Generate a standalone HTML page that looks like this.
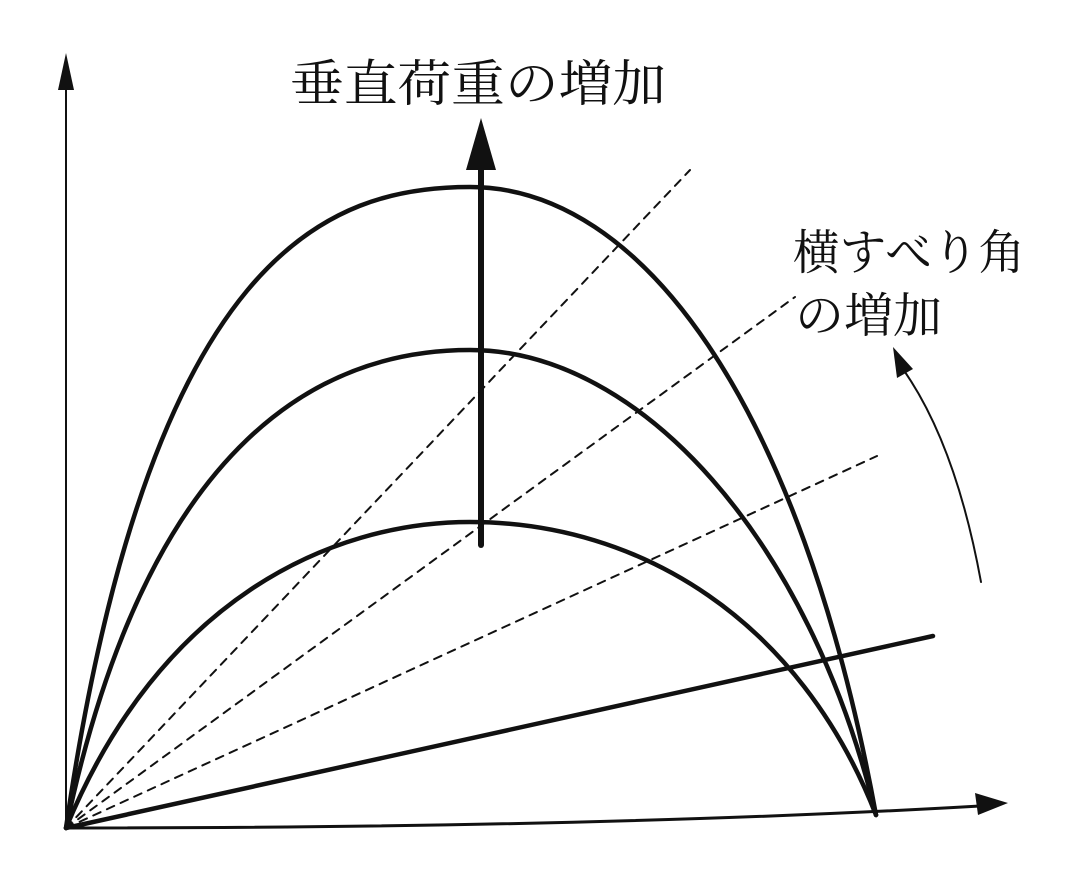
<!DOCTYPE html>
<html><head><meta charset="utf-8"><style>
html,body{margin:0;padding:0;background:#fff;}
svg{display:block}
text{font-family:"Liberation Serif","Noto Serif CJK SC","Noto Sans CJK JP",serif;fill:#111;}
</style></head><body>
<svg width="1080" height="893" viewBox="0 0 1080 893" xmlns="http://www.w3.org/2000/svg">
<rect width="1080" height="893" fill="#fff"/>
<g stroke="#111" fill="none" stroke-linecap="round">
<!-- axes -->
<line x1="66" y1="828" x2="66" y2="85" stroke-width="2"/>
<path d="M66 828 Q600 828 980 806" stroke-width="3"/>
<!-- dashed -->
<g stroke-width="2" stroke-dasharray="8,7">
<line x1="66" y1="828" x2="690" y2="170"/>
<line x1="66" y1="828" x2="795" y2="297"/>
<line x1="66" y1="828" x2="877" y2="456"/>
</g>
<!-- solid line -->
<line x1="66" y1="828" x2="933" y2="636" stroke-width="4.5"/>
<!-- parabolas -->
<g stroke-width="4.5">
<path d="M66 828 C150 250 330 187 470 187 C640 187 800 400 876 815"/>
<path d="M66 828 C150 430 330 350 470 350 C640 350 810 540 876 815"/>
<path d="M66 828 C160 600 330 522 470 522 C640 522 800 620 876 815"/>
</g>
<!-- vertical arrow -->
<line x1="481" y1="545" x2="481" y2="160" stroke-width="6"/>
<!-- curved arrow -->
<path d="M981 582 Q955 440 900 365" stroke-width="2"/>
</g>
<g fill="#111">
<polygon points="66,53 58,90 74,90"/>
<polygon points="1008,803 975,793 978,815"/>
<polygon points="481,118 466,170 496,170"/>
<polygon points="893,347 897,378 913,369"/>
</g>
<text x="290" y="101" font-size="50" textLength="376" lengthAdjust="spacingAndGlyphs">垂直荷重の増加</text>
<text x="793" y="269" font-size="48" textLength="232" lengthAdjust="spacingAndGlyphs">横すべり角</text>
<text x="795" y="332" font-size="48" textLength="147" lengthAdjust="spacingAndGlyphs">の増加</text>
</svg>
</body></html>
